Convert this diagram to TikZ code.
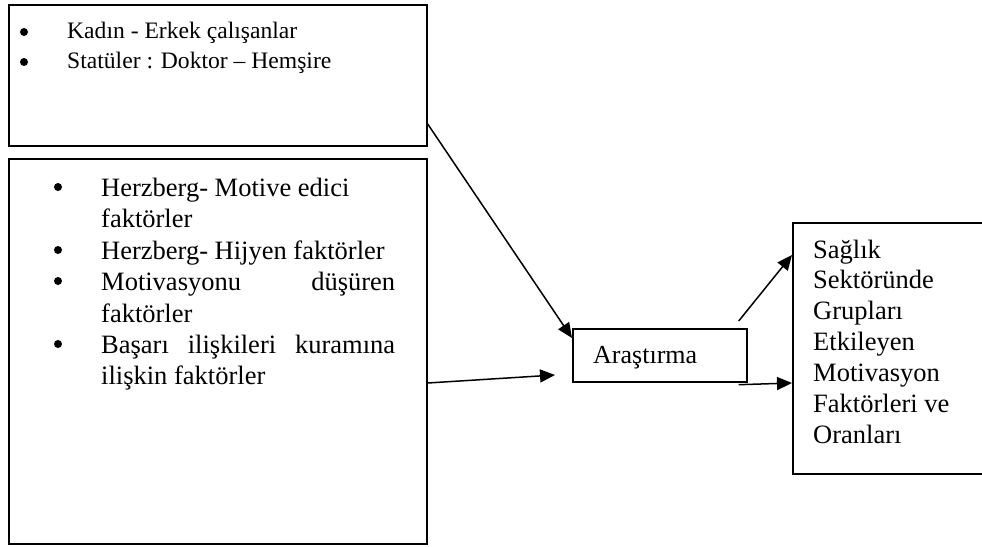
\documentclass[tikz,border=0pt]{standalone}
\usepackage{fontspec}
\setmainfont{Liberation Serif}
\usetikzlibrary{arrows.meta,calc}
\begin{document}
\begin{tikzpicture}[x=1pt,y=-1pt,
  frame/.style={draw, line width=1.7pt, inner sep=0pt, anchor=north west},
  txt/.style={anchor=base west, inner sep=0pt, font=\fontsize{26.5}{31}\selectfont},
  small/.style={anchor=base west, inner sep=0pt, font=\fontsize{23.6}{30}\selectfont},
  dot/.style={circle, fill, inner sep=0pt, minimum size=8pt},
  link/.style={line width=1.5pt, -{Triangle[length=15pt,width=13pt]}}]
\useasboundingbox (0,0) rectangle (982,546);

% boxes
\node[frame, minimum width=418pt, minimum height=141pt] (topbox) at (8,4) {};
\node[frame, minimum width=418pt, minimum height=385pt] (leftbox) at (8,158) {};
\node[frame, minimum width=174pt, minimum height=53pt] (arastirma) at (572,328) {};
\node[frame, minimum width=192pt, minimum height=251pt] (rightbox) at (792,222) {};

% top box list
\node[dot] (b1) at (24,32) {};
\node[small] (k1) at (67,38) {Kadın - Erkek çalışanlar};
\node[dot] (b2) at (24,62) {};
\node[small] (k2) at (67,68) {Statüler : Doktor – Hemşire};

% left box list
\node[dot] (c1) at (58,187) {};
\node[txt] (h1) at (101,196) {Herzberg- Motive edici};
\node[txt] (h2) at (101,227) {faktörler};
\node[dot] (c2) at (58,250) {};
\node[txt] (h3) at (101,259) {Herzberg- Hijyen faktörler};
\node[dot] (c3) at (58,281) {};
\node[txt] (h4) at (101,290) {\hbox to 294pt{Motivasyonu\hfill düşüren}};
\node[txt] (h5) at (101,322) {faktörler};
\node[dot] (c4) at (58,344) {};
\node[txt] (h6) at (101,353) {\hbox to 294pt{Başarı\hfill ilişkileri\hfill kuramına}};
\node[txt] (h7) at (101,384) {ilişkin faktörler};

% middle label
\node[txt, font=\fontsize{26}{31}\selectfont] (ar) at (593,363) {Araştırma};

% right box text
\node[txt] (r1) at (813,258) {Sağlık};
\node[txt] (r2) at (813,288) {Sektöründe};
\node[txt] (r3) at (813,319) {Grupları};
\node[txt] (r4) at (813,350) {Etkileyen};
\node[txt] (r5) at (813,381) {Motivasyon};
\node[txt] (r6) at (813,412) {Faktörleri ve};
\node[txt] (r7) at (813,443) {Oranları};

% connectors
\coordinate (leftin) at ($(arastirma.north west)+(-17,47)$);
\draw[link] ($(topbox.north east)+(0,120)$) -- ($(arastirma.north west)+(0,10)$);
\draw[link] ($(leftbox.north east)+(0,225)$) -- (leftin);
\draw[link] ($(arastirma.north east)+(-9,-7)$) -- ($(rightbox.north west)+(0,33)$);
\draw[link] ($(arastirma.south east)+(-9,2)$) -- ($(rightbox.north west)+(0,161)$);
\end{tikzpicture}
\end{document}
